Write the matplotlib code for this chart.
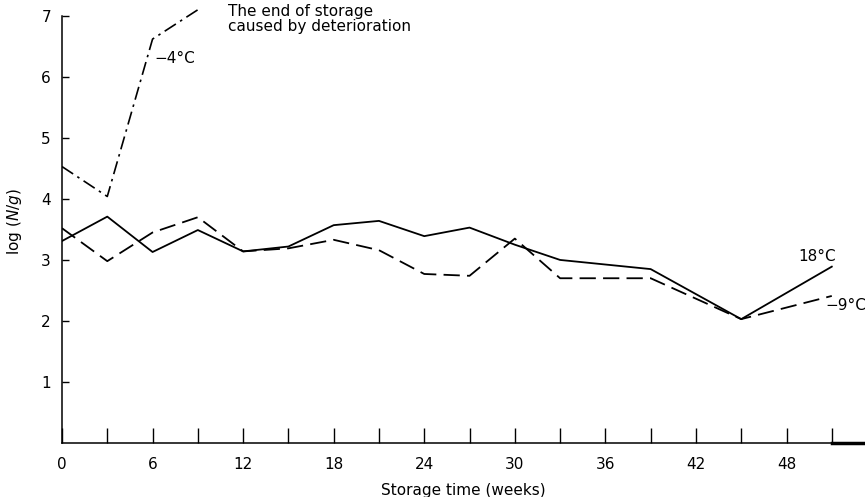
import numpy as np
import matplotlib
matplotlib.use("Agg")
import matplotlib.pyplot as plt

# storage time (weeks)
weeks = [0, 3, 6, 9, 12, 15, 18, 21, 24, 27, 30, 33, 39, 45, 51]
t18 = [3.31, 3.71, 3.13, 3.49, 3.14, 3.22, 3.57, 3.64, 3.39, 3.53, 3.25, 3.0, 2.85, 2.03, 2.89]
t9 = [3.52, 2.98, 3.45, 3.70, 3.14, 3.19, 3.33, 3.16, 2.77, 2.74, 3.35, 2.70, 2.70, 2.03, 2.41]
weeks_m4 = [0, 3, 6, 9]
tm4 = [4.53, 4.04, 6.62, 7.10]

x_labels = [0, 6, 12, 18, 24, 30, 36, 42, 48]
y_labels = [1, 2, 3, 4, 5, 6, 7]

plt.rcParams['font.family'] = ['DejaVu Sans']

fig = plt.figure(figsize=(8.65, 4.97), dpi=100)
ax = fig.add_axes([62 / 865, 1 - 443 / 497, 1 - 62 / 865, 443 / 497])

ax.plot(weeks, t18, color='black', lw=1.3)
ax.plot(weeks, t9, color='black', lw=1.3, dashes=(9, 4))
ax.plot(weeks_m4, tm4, color='black', lw=1.2, dashes=(8, 3, 1.5, 3))

ax.set_xlim(0, 53.2)
ax.set_ylim(0, 7.26)

# ticks
ax.set_xticks(np.arange(3, 52, 3), minor=True)
ax.set_xticks(x_labels)
ax.set_xticklabels([str(v) for v in x_labels], fontsize=11)
ax.tick_params(axis='x', which='both', direction='in', length=11, width=1, pad=10)
ax.set_yticks(y_labels)
ax.set_yticklabels([str(v) for v in y_labels], fontsize=11)
ax.tick_params(axis='y', direction='in', length=5, width=1, pad=8)

for s in ['top', 'right']:
    ax.spines[s].set_visible(False)
ax.spines['left'].set_bounds(0, 7)
ax.spines['left'].set_linewidth(1.1)
ax.spines['bottom'].set_linewidth(1.1)
ax.plot([51, 53.2], [0, 0], color='black', lw=2.5, clip_on=False)

ax.set_xlabel('Storage time (weeks)', fontsize=11, labelpad=8)
ax.set_ylabel(r'log ($N/g$)', fontsize=11, labelpad=12)

ax.text(11.0, 7.2, 'The end of storage\ncaused by deterioration', fontsize=11,
        va='top', ha='left', linespacing=1.05)
ax.text(6.1, 6.3, '\u22124\u00b0C', fontsize=11, ha='left', va='center')
ax.text(48.8, 3.05, '18\u00b0C', fontsize=11, ha='left', va='center')
ax.text(50.6, 2.25, '\u22129\u00b0C', fontsize=11, ha='left', va='center')

fig.savefig('out.png', dpi=100)
